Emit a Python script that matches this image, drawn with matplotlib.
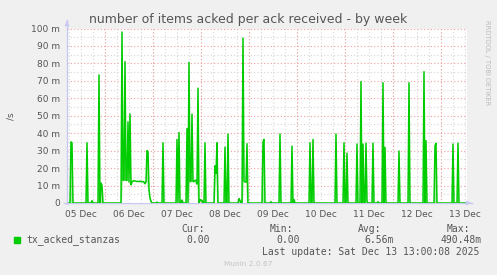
import numpy as np
import matplotlib.pyplot as plt
from matplotlib.patches import Rectangle

# Serie: horas desde 05 Dec 05:00 (muestras de 30 min), valores en milli (m)
spike_hours = [2.0, 2.5, 10.0, 12.5, 16.0, 17.0, 17.5,
               27.5, 28.0, 28.5, 29.0, 29.5, 30.0, 30.5, 31.0, 31.5, 32.0,
               32.5, 33.0, 33.5, 34.0, 34.5, 35.0, 35.5, 36.0, 36.5, 37.0, 37.5, 38.0, 38.5, 39.0, 39.5,
               40.0, 40.5, 41.0, 41.5, 42.0, 45.0, 48.0,
               55.0, 56.0, 57.5, 60.0, 61.0, 61.5, 62.0, 62.5, 63.0, 63.5, 64.0, 64.5, 65.0, 65.5, 66.5,
               67.0, 67.5, 69.0, 74.0, 74.5, 75.0, 79.0, 80.5, 86.0, 86.5,
               88.0, 88.5, 89.0, 89.5, 90.0, 98.0, 98.5, 102.0, 106.5, 112.5, 113.5,
               121.5, 123.0, 134.5, 138.5, 140.0, 145.0, 147.0, 148.0, 149.5, 150.0,
               153.0, 155.5, 158.0, 159.0, 166.0, 171.0, 178.5, 179.5, 184.0, 184.5,
               193.0, 195.5]
spike_values = [35.0, 34.5, 34.5, 1.3, 73.4, 11.4, 10.0,
                98.0, 13.0, 13.0, 81.0, 13.0, 13.0, 46.5, 12.0, 51.0, 10.4,
                12.3, 12.5, 12.8, 12.6, 12.5, 12.3, 12.4, 12.3, 12.5, 12.3, 12.2, 12.3, 12.0, 11.0, 12.3,
                30.0, 29.4, 8.0, 3.0, 1.0, 0.5, 34.5,
                36.4, 40.4, 1.7, 42.7, 80.6, 12.3, 12.3, 50.9, 12.3, 12.3, 13.0, 13.0, 10.8, 65.8, 2.0,
                1.3, 1.5, 34.5, 21.3, 17.0, 34.5, 32.0, 39.5, 2.5, 1.5,
                94.5, 12.7, 12.0, 12.0, 34.0, 35.0, 36.4, 0.7, 39.5, 32.6, 2.0,
                34.5, 36.4, 39.5, 34.5, 28.5, 33.8, 69.6, 33.8, 34.3, 1.0,
                34.3, 0.7, 68.9, 31.9, 29.8, 68.9, 75.3, 35.7, 32.8, 34.2,
                33.8, 34.3]

day_labels = ['05 Dec', '06 Dec', '07 Dec', '08 Dec', '09 Dec',
              '10 Dec', '11 Dec', '12 Dec', '13 Dec']
y_labels = ['0', '10 m', '20 m', '30 m', '40 m', '50 m',
            '60 m', '70 m', '80 m', '90 m', '100 m']

t = np.arange(0, 200.5, 0.5)
vals = np.zeros_like(t)
idx = np.searchsorted(t, spike_hours)
vals[idx] = spike_values

W, H = 497, 275
fig = plt.figure(figsize=(W / 100, H / 100), dpi=100, facecolor='#F0F0F0')
ax = fig.add_axes([67 / W, 1 - 203 / H, 400 / W, 174.5 / H])
ax.set_facecolor('white')

# rejilla estilo rrdtool
for h in np.arange(1, 200, 6):
    ax.axvline(h, color='#D6D6D6', lw=0.8, ls=(0, (1, 2)), zorder=1)
for h in np.arange(19, 200, 24):
    ax.axvline(h, color='#F2A0A0', lw=0.8, ls=(0, (1, 2)), zorder=1)
for v in np.arange(5, 100, 10):
    ax.axhline(v, color='#D6D6D6', lw=0.8, ls=(0, (1, 2)), zorder=1)
for v in np.arange(10, 101, 10):
    ax.axhline(v, color='#F2A0A0', lw=0.8, ls=(0, (1, 2)), zorder=1)

# relleno claro solo dentro de los picos (efecto de suavizado de rrdtool)
lower = np.minimum(np.roll(vals, 1), np.roll(vals, -1))
ax.fill_between(t, lower, vals, where=vals > lower, interpolate=True,
                color='#00CC00', alpha=0.35, lw=0, zorder=2)
ax.plot(t, vals, color='#00CC00', lw=1.1, zorder=3)

ax.set_xlim(0, 200)
ax.set_ylim(0, 100)
ax.set_xticks(np.arange(7, 200, 24))
ax.set_xticklabels(day_labels)
ax.set_yticks(np.arange(0, 101, 10))
ax.set_yticklabels(y_labels)
ax.tick_params(length=0, labelsize=6.5, colors='#555555', pad=5)
for s in ax.spines.values():
    s.set_visible(False)

# ejes con flecha
fig.add_artist(plt.Line2D([67 / W, 67 / W], [1 - 204 / H, 1 - 20 / H],
                          color='#C8C8F0', lw=1))
fig.add_artist(plt.Line2D([64 / W, 472 / W], [1 - 203 / H, 1 - 203 / H],
                          color='#C8C8F0', lw=1, zorder=0))
ax.annotate('', xy=(67 / W, 1 - 18 / H), xytext=(67 / W, 1 - 26 / H), xycoords='figure fraction',
            arrowprops=dict(arrowstyle='-|>', color='#C8C8F0', lw=1, mutation_scale=6))
ax.annotate('', xy=(474 / W, 1 - 203 / H), xytext=(466 / W, 1 - 203 / H), xycoords='figure fraction',
            arrowprops=dict(arrowstyle='-|>', color='#C8C8F0', lw=1, mutation_scale=6))

def ft(x, y, s, **kw):
    fig.text(x / W, 1 - y / H, s, **kw)

ft(248, 19, 'number of items acked per ack received - by week', ha='center', va='center',
   fontsize=9, color='#555555')
ft(11, 116, '/s', rotation=90, ha='center', va='center', fontsize=6.5, color='#555555')
ft(487, 63, 'RRDTOOL / TOBI OETIKER', rotation=270, ha='center', va='center',
   fontsize=4.8, color='#BBBBBB')

mono = dict(family='DejaVu Sans Mono', fontsize=7, color='#555555', va='center')
fig.add_artist(Rectangle((14 / W, 1 - 243 / H), 6 / W, 6 / H, color='#00CC00',
                         transform=fig.transFigure))
ft(26.7, 240, 'tx_acked_stanzas', **mono)
ft(181.7, 228.5, 'Cur:', **mono)
ft(269.3, 228.5, 'Min:', **mono)
ft(357.7, 228.5, 'Avg:', **mono)
ft(446.7, 228.5, 'Max:', **mono)
ft(186.7, 240, '0.00', **mono)
ft(276.3, 240, '0.00', **mono)
ft(364.3, 240, '6.56m', **mono)
ft(440.7, 240, '490.48m', **mono)
ft(261.7, 252, 'Last update: Sat Dec 13 13:00:08 2025', **mono)
ft(248, 264.5, 'Munin 2.0.67', ha='center', va='center', fontsize=5.3, color='#C4C4C4')

fig.savefig('out.png', dpi=100, facecolor=fig.get_facecolor())
